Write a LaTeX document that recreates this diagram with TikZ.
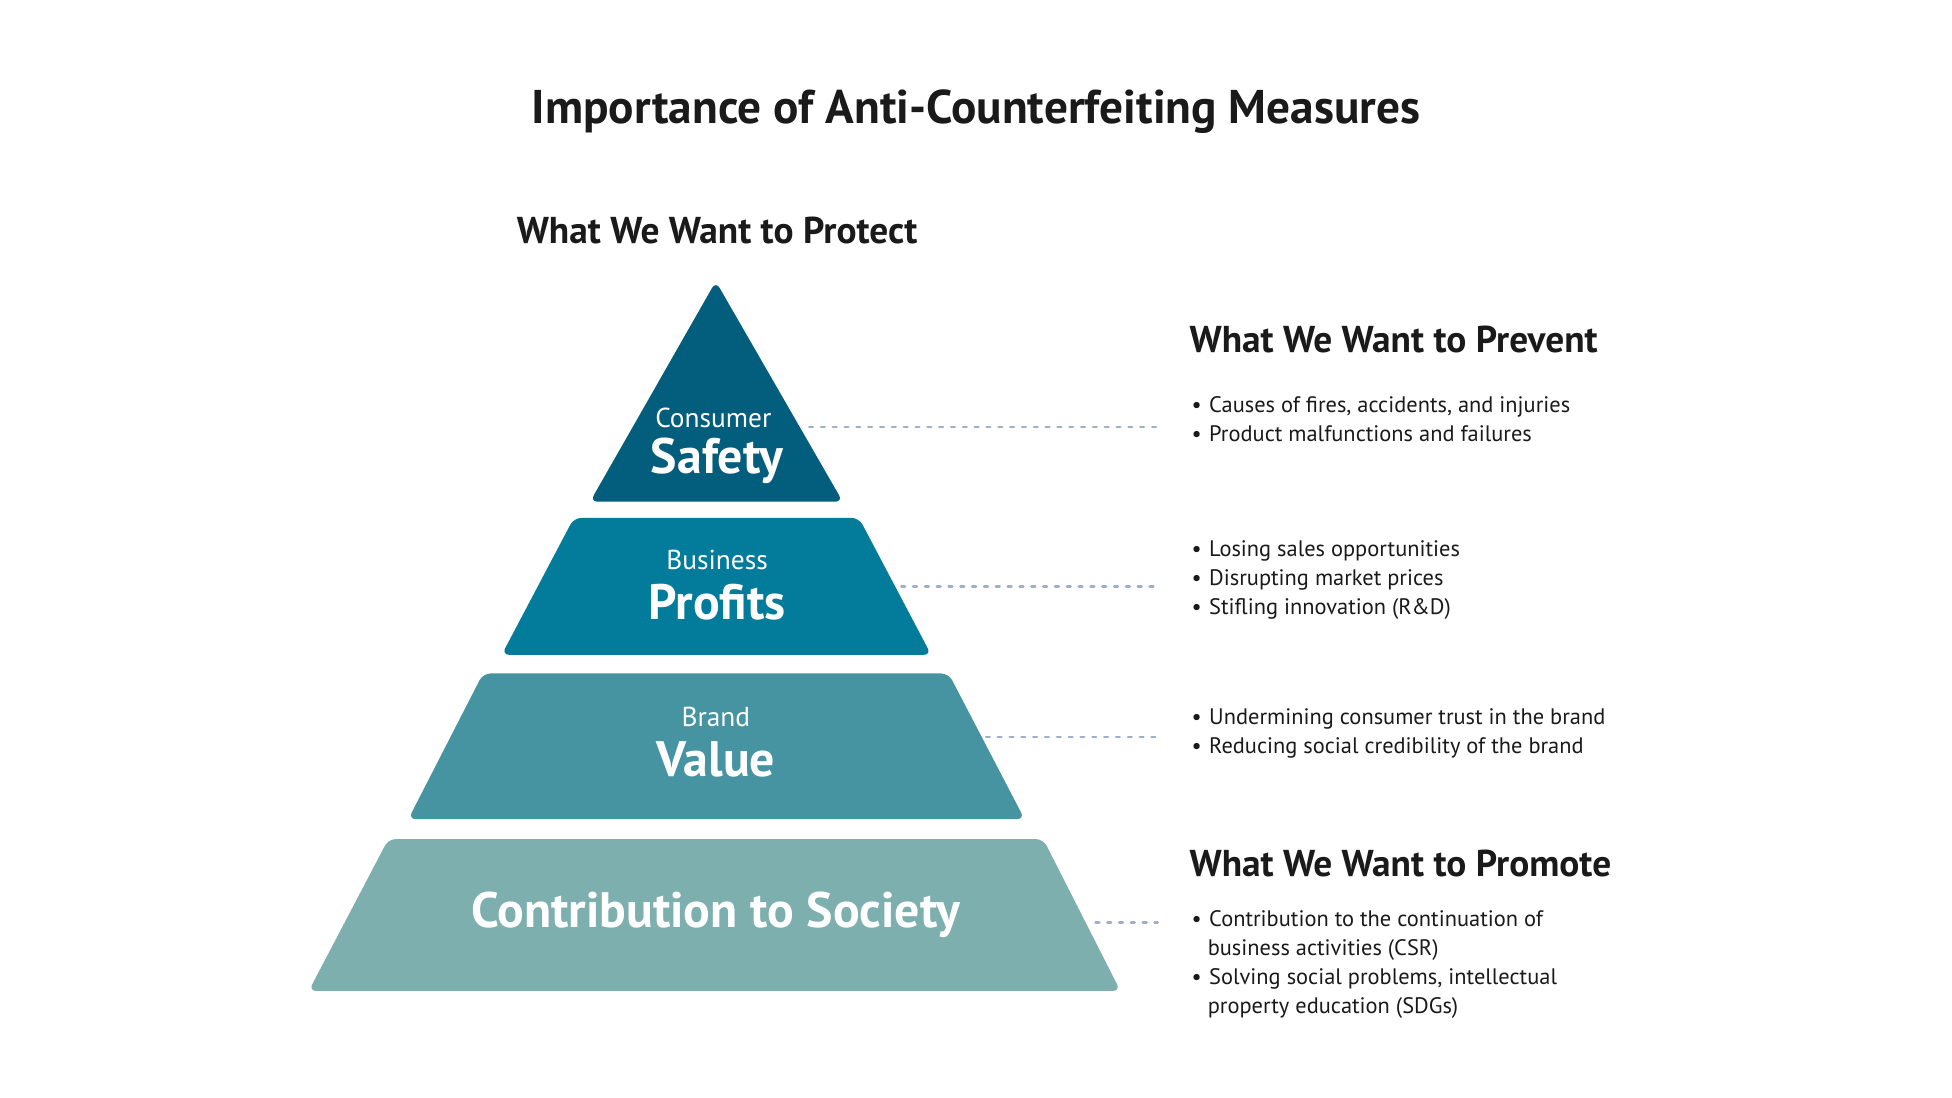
\documentclass[tikz,border=0pt]{standalone}
\usepackage{fontspec}
\setmainfont{PT Sans}
\definecolor{c1}{HTML}{035E7E}
\definecolor{c2}{HTML}{037B9B}
\definecolor{c3}{HTML}{4693A2}
\definecolor{c4}{HTML}{7DAFAF}
\definecolor{dotc}{HTML}{9FAFC9}
\definecolor{txt}{HTML}{1A1A1A}
\begin{document}
\begin{tikzpicture}[x=1pt,y=-1pt,
  tier/.style={rounded corners=6pt},
  dotline/.style={dotc,line width=2pt,dash pattern=on 3pt off 6.5pt,line cap=round},
  head/.style={anchor=west,font=\fontsize{30}{30}\selectfont\bfseries,text=txt},
  small/.style={font=\fontsize{22}{22}\selectfont,text=white},
  big/.style={font=\fontsize{40}{40}\selectfont\bfseries,text=white},
  blist/.style={anchor=north west,align=left,text=txt,font=\fontsize{18}{23.3}\selectfont,inner sep=0pt}]
\useasboundingbox (0,0) rectangle (1568,882);
\fill[white] (0,0) rectangle (1568,882);
\node[font=\fontsize{38}{38}\selectfont\bfseries,text=txt] (title) at (784,90) {Importance of Anti-Counterfeiting Measures};
\node[anchor=center,font=\fontsize{30}{30}\selectfont\bfseries,text=txt] (protect) at (576,185) {What We Want to Protect};
\fill[c1,tier] (575,226) -- (677,403) -- (474,403) -- cycle;
\fill[c2,tier] (461,416) -- (690,416) -- (748,526) -- (403,526) -- cycle;
\fill[c3,tier] (388,541) -- (762,541) -- (823,658) -- (328,658) -- cycle;
\fill[c4,tier] (312,674) -- (838,674) -- (900,796) -- (248,796) -- cycle;
\node[small] (l1a) at (573,336) {Consumer};
\node[big] (l1b) at (576,370) {Safety};
\node[small] (l2a) at (576,450) {Business};
\node[big] (l2b) at (576,484) {Profits};
\node[small] (l3a) at (575,576) {Brand};
\node[big] (l3b) at (575,610) {Value};
\node[big] (l4) at (575,735) {Contribution to Society};
\coordinate (s1) at (650,343); \coordinate (e1) at (930,343);
\coordinate (s2) at (724,471); \coordinate (e2) at (930,471);
\coordinate (s3) at (792,592); \coordinate (e3) at (930,592);
\coordinate (s4) at (880,741); \coordinate (e4) at (930,741);
\foreach \i in {1,2,3,4} \draw[dotline] (s\i) -- (e\i);
\node[head] (prevent) at (952,273) {What We Want to Prevent};
\node[head] (promote) at (952,694) {What We Want to Promote};
\node[blist] (b1) at (957,318) {•\hspace{6pt}Causes of fires, accidents, and injuries\\•\hspace{6pt}Product malfunctions and failures};
\node[blist] (b2) at (957,434) {•\hspace{6pt}Losing sales opportunities\\•\hspace{6pt}Disrupting market prices\\•\hspace{6pt}Stifling innovation (R\&D)};
\node[blist] (b3) at (957,569) {•\hspace{6pt}Undermining consumer trust in the brand\\•\hspace{6pt}Reducing social credibility of the brand};
\node[blist] (b4) at (957,731) {•\hspace{6pt}Contribution to the continuation of\\\hspace{13pt}business activities (CSR)\\•\hspace{6pt}Solving social problems, intellectual\\\hspace{13pt}property education (SDGs)};
\end{tikzpicture}
\end{document}
